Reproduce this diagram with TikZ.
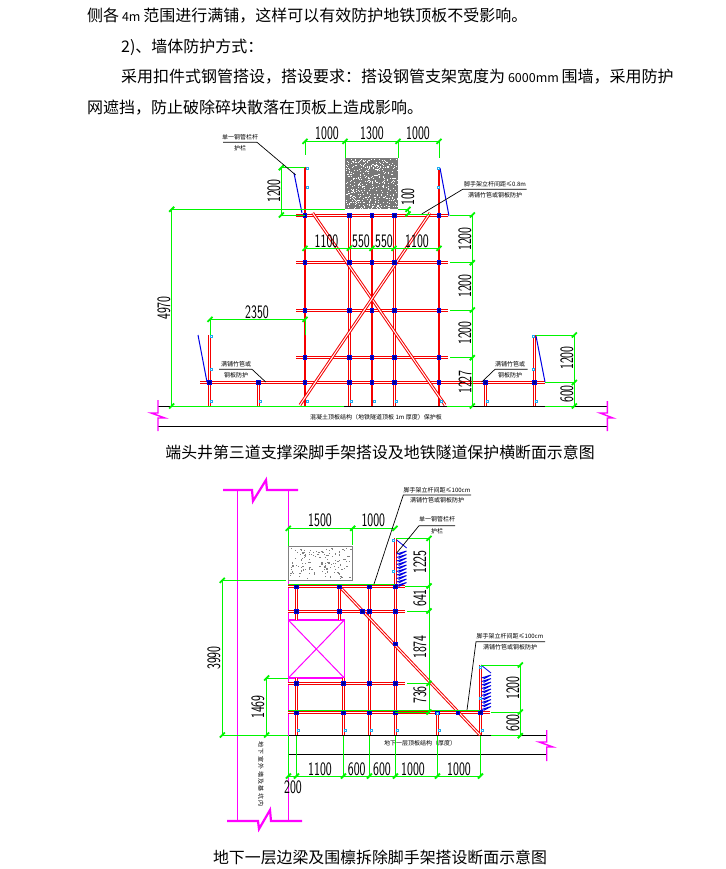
\documentclass[tikz,border=0pt]{standalone}
\usepackage{fontspec}
\usepackage{tikz}
\newfontfamily\cjk{Noto Sans CJK SC}
\definecolor{cadgreen}{RGB}{0,245,0}
\definecolor{cadred}{RGB}{245,0,0}
\definecolor{cadblue}{RGB}{0,0,230}
\definecolor{cadcyan}{RGB}{30,170,240}
\definecolor{cadmagenta}{RGB}{255,0,255}
\newcommand{\dimtick}[1]{\draw[dimtick, shift={(#1)}] (-2.5,2.5) -- (2.5,-2.5);}
\newcommand{\springnet}[3]{\foreach \k in {0,...,9} {\draw[spring] (#1,#3+3.5*\k) -- (#2,#3+3.5*\k-3) -- (#1+2,#3+3.5*\k+1);}}
\newcommand{\smallnum}[1]{{\fontsize{12.5}{13}\selectfont\ #1\ }}

\begin{document}
\begin{tikzpicture}[
    x=1pt, y=-1pt,
    body/.style={anchor=west, inner sep=0pt, font=\cjk\fontsize{16}{16}\selectfont},
    caption/.style={inner sep=0pt, font=\cjk\fontsize{15.9}{16}\selectfont},
    dimh/.style={inner sep=0pt, xscale=.66, font=\sffamily\fontsize{19}{19}\selectfont},
    dimv/.style={inner sep=0pt, rotate=90, xscale=.66, font=\sffamily\fontsize{19}{19}\selectfont},
    note/.style={inner sep=0pt, font=\cjk\fontsize{6}{6}\selectfont},
    dimline/.style={draw=cadgreen, line width=1pt},
    dimtick/.style={draw=cadgreen, line width=1.8pt},
    leader/.style={draw=black, line width=.7pt},
    ground/.style={draw=black, line width=1pt},
    breakline/.style={draw=cadmagenta, line width=1.4pt},
    tube/.style={draw=cadred, line width=1pt, double=white, double distance=1pt},
    post/.style={draw=cadred, line width=2.2pt},
    brace/.style={draw=cadblue, line width=1pt},
    spring/.style={draw=cadblue, line width=.9pt},
    coupler/.style={draw=cadblue, line width=1.1pt, fill=cadblue!60!black, minimum size=3.6pt, inner sep=0pt},
    clip mark/.style={draw=cadcyan, line width=.9pt, fill=white, minimum size=2pt, inner sep=0pt}
]
    \useasboundingbox (0,0) rectangle (725,869);
    \fill[white] (0,0) rectangle (725,869);

    % Body text
    \node[body] (line1) at (87,16) {侧各\smallnum{4m}范围进行满铺，这样可以有效防护地铁顶板不受影响。};
    \node[body] (line2) at (121,47) {2)、墙体防护方式：};
    \node[body] (line3) at (121,77) {采用扣件式钢管搭设，搭设要求：搭设钢管支架宽度为\smallnum{6000mm}围墙，采用防护};
    \node[body] (line4) at (87,108) {网遮挡，防止破除碎块散落在顶板上造成影响。};
    \node[caption] (cap1) at (380,452) {端头井第三道支撑梁脚手架搭设及地铁隧道保护横断面示意图};
    \node[caption] (cap2) at (380,857) {地下一层边梁及围檩拆除脚手架搭设断面示意图};

    % Cross section: ground and breaks
    \draw[ground] (158,406.5) -- (607,406.5);
    \draw[ground] (158,426.5) -- (607,426.5);
    \draw[breakline] (158,400) -- (158,413) -- (151,413) -- (165,418) -- (158,418) -- (158,431);
    \draw[breakline] (607.3,401) -- (607.3,413) -- (600,413) -- (613,418) -- (607.3,418) -- (607.3,431);
    \node[note] (slab1) at (376,417) {混凝土顶板结构（地铁隧道顶板 1m 厚度）保护板};

    % Cross section: beam
    \fill[gray!95!black] (345,158) rectangle (398,209);
    \pgfmathsetseed{7}
    \foreach \i in {1,...,420} {
        \pgfmathsetmacro{\px}{345.5+rnd*52}
        \pgfmathsetmacro{\py}{158.5+rnd*50}
        \fill[white] (\px,\py) rectangle +(1,1);
    }

    % Cross section: ledgers
    \foreach \yy in {215.5,262.5,310.5,357.5}
        \draw[tube] (296,\yy) -- (448,\yy);
    \draw[tube] (200,382.5) -- (545,382.5);

    % Cross section: posts and braces
    \foreach \xx in {349.5,394.5}
        \draw[tube] (\xx,215) -- (\xx,406);
    \draw[post] (372,215) -- (372,406);
    \draw[post] (305,167) -- (305,406);
    \draw[post] (439,168) -- (439,406);
    \draw[tube] (312.7,213) -- (445,405);
    \draw[tube] (430,213) -- (300,405);
    \foreach \xx in {209.5,534.5}
        \draw[tube] (\xx,335) -- (\xx,406);
    \foreach \xx in {258.5,485.5}
        \draw[tube] (\xx,383) -- (\xx,406);
    \draw[brace] (294,173) -- (302,213);
    \draw[brace] (440,168) -- (449,216);
    \draw[brace] (198,335) -- (207,382);
    \draw[brace] (536,336) -- (545,382);

    % Cross section: couplers
    \foreach \xx in {305,349.5,372,394.5,439} {
        \foreach \yy in {215.5,262.5,310.5,357.5,382.5}
            \node[coupler] at (\xx,\yy) {};
        \node[clip mark] at (\xx+2,401) {};
    }
    \foreach \xx in {209.5,258.5,485.5,534.5} {
        \node[coupler] at (\xx,382.5) {};
        \node[clip mark] at (\xx+2,401) {};
    }
    \foreach \xx/\yy in {307/168,307/187,438/168,438/187,211/336,211/369,533/336,533/369}
        \node[clip mark] at (\xx,\yy) {};

    % Cross section: dimensions
    \draw[dimline] (305,155) -- (305,141.5) -- (439,141.5) -- (439,158);
    \draw[dimline] (345,141.5) -- (345,158);
    \draw[dimline] (398,141.5) -- (398,158);
    \draw[dimline] (305,167.5) -- (281.5,167.5) -- (281.5,215) -- (305,215);
    \draw[dimline] (345,209.5) -- (171.5,209.5) -- (171.5,406) -- (344,406);
    \draw[dimline] (305,248.5) -- (439,248.5);
    \draw[dimline] (398,209.5) -- (408,209.5) -- (408,214) -- (430,214);
    \draw[dimline] (305,335) -- (305,319.5) -- (210,319.5) -- (210,335);
    \draw[dimline] (472.5,215) -- (472.5,406);
    \foreach \yy in {215.5,262.5,310.5,357.5}
        \draw[dimline] (450,\yy) -- (472.5,\yy);
    \draw[dimline] (447,406.5) -- (472.5,406.5);
    \draw[dimline] (536,335.5) -- (574.5,335.5) -- (574.5,406.5) -- (545,406.5);
    \draw[dimline] (545,382.5) -- (574.5,382.5);
    \foreach \xx/\yy in {305/141.3,345/141.3,398/141.3,439/141.3,281.3/167.7,281.3/215,171.7/209.3,171.7/406,
        305/248.3,349.3/248.3,372/248.3,394/248.3,439/248.3,408/209.3,408/214,210/319.3,305/319.3,
        472.3/215,472.3/262.7,472.3/310,472.3/357.7,472.3/406,574.3/335,574.3/382.5,574.3/406} {
        \dimtick{\xx,\yy}
    }
    \node[dimh] (d1a) at (327,133) {1000};
    \node[dimh] (d1b) at (372,133) {1300};
    \node[dimh] (d1c) at (418,133) {1000};
    \node[dimh] (d1d) at (326.5,241) {1100};
    \node[dimh] (d1e) at (361,241) {550};
    \node[dimh] (d1f) at (384,241) {550};
    \node[dimh] (d1g) at (417,241) {1100};
    \node[dimh] (d1h) at (257,312) {2350};
    \node[dimv] (d1i) at (274,191) {1200};
    \node[dimv] (d1j) at (164,308) {4970};
    \node[dimv] (d1k) at (408,197) {100};
    \node[dimv] (d1l) at (465,239) {1200};
    \node[dimv] (d1m) at (465,286) {1200};
    \node[dimv] (d1n) at (465,333) {1200};
    \node[dimv] (d1o) at (465,382) {1227};
    \node[dimv] (d1p) at (567,358) {1200};
    \node[dimv] (d1q) at (567,394) {600};

    % Cross section: leader notes
    \node[note] (n1a) at (240,137) {单一钢管栏杆};
    \node[note] (n1b) at (240,148) {护栏};
    \coordinate (n1c) at (223,142.3);
    \coordinate (n1d) at (257,142.3);
    \coordinate (n1e) at (295.7,175);
    \draw[leader] (n1c) -- (n1d) -- (n1e);
    \node[note] (n2a) at (495,184) {脚手架立杆间距≤0.8m};
    \node[note] (n2b) at (495,195) {满铺竹笆或钢板防护};
    \coordinate (n2c) at (526.7,189.3);
    \coordinate (n2d) at (462.7,189.3);
    \coordinate (n2e) at (421.7,214);
    \draw[leader] (n2c) -- (n2d) -- (n2e);
    \node[note] (n3a) at (236,364) {满铺竹笆或};
    \node[note] (n3b) at (236,375) {钢板防护};
    \coordinate (n3c) at (219,369.3);
    \coordinate (n3d) at (252,369.3);
    \coordinate (n3e) at (265.7,382);
    \draw[leader] (n3c) -- (n3d) -- (n3e);
    \node[note] (n4a) at (510,364) {满铺竹笆或};
    \node[note] (n4b) at (510,375) {钢板防护};
    \coordinate (n4c) at (527.7,369.3);
    \coordinate (n4d) at (495,369.3);
    \coordinate (n4e) at (481.7,382);
    \draw[leader] (n4c) -- (n4d) -- (n4e);

    % Section two: ground and breaks
    \draw[ground] (288,735.5) -- (546,735.5);
    \draw[ground] (288,754.5) -- (546,754.5);
    \draw[breakline] (546.7,730) -- (546.7,742) -- (539,742) -- (553,747) -- (546.7,747) -- (546.7,761);
    \node[note] (slab2) at (420,743.5) {地下一层顶板结构（厚度）};

    % Section two: wall lines and breaks
    \draw[draw=cadmagenta, line width=1pt] (237.5,490) -- (237.5,821);
    \draw[draw=cadmagenta, line width=1pt] (288.5,490) -- (288.5,821);
    \draw[draw=cadmagenta, line width=2.2pt] (223,490) -- (252,490) -- (253,501) -- (266,480) -- (267,490) -- (298,490);
    \draw[draw=cadmagenta, line width=2.2pt] (227,821) -- (258,821) -- (259,829) -- (270,810) -- (271,821) -- (302,821);
    \draw[draw=cadmagenta, line width=1.5pt] (288.3,620) rectangle (344.3,678);
    \draw[draw=cadmagenta, line width=1pt] (288.3,620) -- (344.3,678);
    \draw[draw=cadmagenta, line width=1pt] (344.3,620) -- (288.3,678);
    \node[note, rotate=-90] (wall) at (261,774) {地\ 下\ 室\ 外\ 墙\ 及\ 基\ 坑\ 内};

    % Section two: beam
    \draw[draw=gray, line width=1pt] (288.5,546.5) rectangle (352.5,580.5);
    \pgfmathsetseed{11}
    \foreach \i in {1,...,130} {
        \pgfmathsetmacro{\px}{290+rnd*61}
        \pgfmathsetmacro{\py}{547.5+rnd*31}
        \fill[gray] (\px,\py) rectangle +(1.2,1.2);
    }

    % Section two: ledgers
    \foreach \yy in {586.5,611.5,683.5}
        \draw[tube] (288,\yy) -- (405,\yy);
    \draw[tube] (288,712.5) -- (490,712.5);

    % Section two: posts and braces
    \draw[tube] (296.5,586) -- (296.5,620);
    \draw[tube] (339.5,586) -- (339.5,620);
    \draw[tube] (296.5,678) -- (296.5,735);
    \draw[tube] (343.5,678) -- (343.5,735);
    \draw[tube] (369.5,586) -- (369.5,735);
    \draw[tube] (395.5,538) -- (395.5,735);
    \draw[tube] (437.5,712) -- (437.5,735);
    \draw[tube] (480.5,665) -- (480.5,735);
    \draw[tube] (340,587) -- (480,735);
    \draw[brace, line width=.8pt] (396.7,540) -- (406.7,548);
    \draw[brace, line width=.8pt] (481,665) -- (491,673);
    \springnet{396.5}{406.5}{554}
    \springnet{481.5}{491}{678}

    % Section two: couplers
    \foreach \xx in {296.5,339.5,369.5,395.5}
        \foreach \yy in {586.5,611.5}
            \node[coupler] at (\xx,\yy) {};
    \foreach \xx in {296.5,343.5,369.5,395.5}
        \foreach \yy in {683.5,712.5}
            \node[coupler] at (\xx,\yy) {};
    \foreach \xx/\yy in {362.5/611.5,395.5/644,437.5/712.5,458/712.5,480.5/712.5}
        \node[coupler] at (\xx,\yy) {};
    \foreach \xx in {296.5,343.5,369.5,395.5,437.5,480.5}
        \node[clip mark] at (\xx+2,730) {};
    \foreach \xx/\yy in {393/540,393/571,480/667,437/713,480/698}
        \node[clip mark] at (\xx,\yy) {};

    % Section two: dimensions
    \draw[dimline] (288.5,546) -- (288.5,528.5) -- (395,528.5);
    \draw[dimline] (352.5,528.5) -- (352.5,545);
    \draw[dimline] (286,580.5) -- (222.5,580.5) -- (222.5,735.5) -- (288,735.5);
    \draw[dimline] (288,678.5) -- (266.5,678.5) -- (266.5,735);
    \draw[dimline] (288,584.5) -- (395,584.5);
    \draw[dimline] (288,710.5) -- (480,710.5);
    \draw[dimline] (396,538.5) -- (429.5,538.5) -- (429.5,712);
    \draw[dimline] (405,586.5) -- (429.5,586.5);
    \draw[dimline] (407,611.5) -- (429.5,611.5);
    \draw[dimline] (407,683.5) -- (429.5,683.5);
    \draw[dimline] (395,712.5) -- (429.5,712.5);
    \draw[dimline] (481,665.5) -- (520.5,665.5) -- (520.5,735.5) -- (491,735.5);
    \draw[dimline] (491,712.5) -- (520.5,712.5);
    \draw[dimline] (288,776.5) -- (480,776.5);
    \foreach \xx in {288.5,296.5,343.5,369.5,395.5,437.5,480.5} {
        \draw[dimline] (\xx,736) -- (\xx,776);
        \dimtick{\xx,776}
    }
    \foreach \xx/\yy in {288.3/528.3,352.7/528.3,395/528.3,222.3/580.3,222.3/735,266.7/678,266.7/735,
        429/538.3,429/586,429/611,429/683.3,429/712,520.3/665,520.3/712,520.3/735.7} {
        \dimtick{\xx,\yy}
    }
    \node[dimh] (d2a) at (320,520) {1500};
    \node[dimh] (d2b) at (373.3,520) {1000};
    \node[dimh] (d2c) at (320,769) {1100};
    \node[dimh] (d2d) at (356.7,769) {600};
    \node[dimh] (d2e) at (382,769) {600};
    \node[dimh] (d2f) at (413,769) {1000};
    \node[dimh] (d2g) at (459,769) {1000};
    \node[dimh] (d2h) at (293,787) {200};
    \node[dimv] (d2i) at (214,658) {3990};
    \node[dimv] (d2j) at (258,707) {1469};
    \node[dimv] (d2k) at (420,562) {1225};
    \node[dimv] (d2l) at (420,598) {641};
    \node[dimv] (d2m) at (420,647) {1874};
    \node[dimv] (d2n) at (420,695) {736};
    \node[dimv] (d2o) at (513,688) {1200};
    \node[dimv] (d2p) at (513,723) {600};

    % Section two: leader notes
    \node[note] (m1a) at (437,490) {脚手架立杆间距≤100cm};
    \node[note] (m1b) at (437,500) {满铺竹笆或钢板防护};
    \coordinate (m1c) at (471,495);
    \coordinate (m1d) at (403.3,495);
    \coordinate (m1e) at (374,584);
    \draw[leader] (m1c) -- (m1d) -- (m1e);
    \node[note] (m2a) at (437,519) {单一钢管栏杆};
    \node[note] (m2b) at (437,531) {护栏};
    \coordinate (m2c) at (455,525.7);
    \coordinate (m2d) at (419,525.7);
    \coordinate (m2e) at (396.7,553);
    \draw[leader] (m2c) -- (m2d) -- (m2e);
    \node[note] (m3a) at (510,636.5) {脚手架立杆间距≤100cm};
    \node[note] (m3b) at (510,647) {满铺竹笆或钢板防护};
    \coordinate (m3c) at (545,641.7);
    \coordinate (m3d) at (476,641.7);
    \coordinate (m3e) at (467,710);
    \draw[leader] (m3c) -- (m3d) -- (m3e);
\end{tikzpicture}
\end{document}
